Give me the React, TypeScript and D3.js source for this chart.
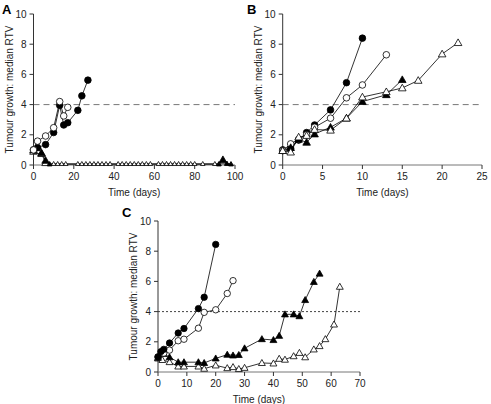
import React from "react";
import * as d3 from "d3";

type P = [number, number];

// Panel A
const aFilledCircle: P[] = [[0, 1.0], [2, 1.15], [6, 1.35], [10, 2.15], [13, 3.95], [15, 2.65], [17, 2.8], [22, 3.62], [24, 4.58], [27, 5.62]];
const aOpenCircle: P[] = [[0, 1.0], [2, 1.58], [6, 1.92], [10, 2.47], [13, 4.2], [15, 3.25], [17, 3.82]];
const aBaseDays = [8, 10, 12, 14, 16, 22, 24, 26, 28, 30, 32, 34, 36, 38, 42, 44, 46, 48, 50, 52, 54, 56, 58, 62, 64, 66, 68, 70, 72, 74, 76, 78, 80, 84, 90, 92, 96, 98];
const aFilledTri: P[] = [[0, 1.0], [2, 1.25], [4, 0.8], [6, 0.3], [8, 0.05], [92, 0.05], [94, 0.35], [96, 0.1], [98, 0.05]];
const aOpenTri: P[] = [[0, 0.9], [2, 0.95], [4, 0.75], [6, 0.15], ...aBaseDays.map((d) => [d, 0.08] as P)];

// Panel B
const bFilledCircle: P[] = [[0, 1.0], [1, 1.1], [2, 1.65], [3, 2.15], [4, 2.65], [6, 3.65], [8, 5.45], [10, 8.4]];
const bOpenCircle: P[] = [[0, 0.95], [1, 1.4], [2, 1.7], [3, 2.0], [4, 2.5], [6, 3.1], [8, 4.45], [10, 5.3], [13, 7.3]];
const bFilledTri: P[] = [[0, 0.95], [1, 1.15], [2, 1.7], [3, 1.5], [4, 2.05], [6, 2.5], [8, 3.1], [10, 4.2], [13, 4.65], [15, 5.65]];
const bOpenTri: P[] = [[0, 0.95], [1, 0.85], [2, 1.85], [3, 1.95], [4, 2.35], [6, 2.3], [8, 3.1], [10, 4.5], [13, 4.85], [15, 5.1], [17, 5.6], [20, 7.35], [22, 8.1]];

// Panel C
const cFilledCircle: P[] = [[0, 1.0], [1, 1.35], [2, 1.5], [4, 1.92], [7, 2.58], [9, 2.88], [14, 4.2], [16, 4.95], [20, 8.45]];
const cOpenCircle: P[] = [[0, 1.0], [2, 1.25], [4, 1.45], [7, 2.07], [9, 2.17], [14, 2.9], [16, 3.95], [20, 4.12], [24, 5.2], [26, 6.05]];
const cFilledTri: P[] = [[0, 0.95], [2, 1.2], [4, 0.98], [7, 0.65], [9, 0.65], [14, 0.65], [16, 0.6], [20, 0.9], [24, 1.15], [26, 1.1], [28, 1.13], [30, 1.57], [36, 2.18], [40, 2.12], [42, 2.4], [44, 3.82], [47, 3.82], [49, 3.7], [51, 4.77], [54, 5.97], [56, 6.52]];
const cOpenTri: P[] = [[0, 0.9], [1.5, 0.8], [4, 0.66], [7, 0.37], [9, 0.37], [14, 0.37], [16, 0.22], [20, 0.44], [24, 0.26], [26, 0.33], [28, 0.2], [30, 0.28], [36, 0.6], [40, 0.57], [42, 0.88], [44, 0.82], [47, 1.05], [49, 1.27], [51, 0.98], [54, 1.5], [56, 1.72], [58, 2.18], [61, 3.15], [63, 5.65]];

const yTicks = [0, 2, 4, 6, 8, 10];
const aXTicks = [0, 20, 40, 60, 80, 100];
const bXTicks = [0, 5, 10, 15, 20, 25];
const cXTicks = [0, 10, 20, 30, 40, 50, 60, 70];

const FONT = "Liberation Sans, Arial, Helvetica, sans-serif";

type Series = { data: P[]; shape: "circle" | "triangle"; filled: boolean; size?: number };

function Marker({ x, y, shape, filled, size }: { x: number; y: number; shape: string; filled: boolean; size: number }) {
  const fill = filled ? "#000" : "#fff";
  if (shape === "circle") {
    return <circle cx={x} cy={y} r={size} fill={fill} stroke="#000" strokeWidth={0.8} />;
  }
  const s = size * 1.15;
  const pts = `${x},${y - s} ${x - s},${y + s * 0.75} ${x + s},${y + s * 0.75}`;
  return <polygon points={pts} fill={fill} stroke="#000" strokeWidth={0.8} />;
}

function Panel({
  label, labelX, labelY, x0, x1, yTop, yBot, xMax, xTicks, series, dash, dashColor, baseSmall,
}: {
  label: string; labelX: number; labelY: number; x0: number; x1: number; yTop: number; yBot: number;
  xMax: number; xTicks: number[]; series: Series[]; dash: string; dashColor: string; baseSmall?: boolean;
}) {
  const x = d3.scaleLinear().domain([0, xMax]).range([x0, x1]);
  const y = d3.scaleLinear().domain([0, 10]).range([yBot, yTop]);
  const line = d3.line<P>().x((d) => x(d[0])).y((d) => y(d[1]));
  const axisColor = "#333";
  return (
    <g>
      <text x={labelX} y={labelY} fontFamily={FONT} fontWeight="bold" fontSize={13}>{label}</text>
      <line x1={x0} x2={x1} y1={y(4)} y2={y(4)} stroke={dashColor} strokeWidth={1} strokeDasharray={dash} />
      <line x1={x0} x2={x0} y1={yTop} y2={yBot} stroke={axisColor} strokeWidth={1} />
      <line x1={x0} x2={x1} y1={yBot} y2={yBot} stroke="#777" strokeWidth={1} />
      {yTicks.map((t) => (
        <g key={"y" + t}>
          <line x1={x0 - 4} x2={x0} y1={y(t)} y2={y(t)} stroke={axisColor} />
          <text x={x0 - 7} y={y(t)} dy="0.35em" textAnchor="end" fontFamily={FONT} fontSize={10} fill="#222">{t}</text>
        </g>
      ))}
      {xTicks.map((t) => (
        <g key={"x" + t}>
          <line x1={x(t)} x2={x(t)} y1={yBot} y2={yBot + 4} stroke={axisColor} />
          <text x={x(t)} y={yBot + 15} textAnchor="middle" fontFamily={FONT} fontSize={10} fill="#222">{t}</text>
        </g>
      ))}
      <text x={(x0 + x1) / 2} y={yBot + 31} textAnchor="middle" fontFamily={FONT} fontSize={10} fill="#222">Time (days)</text>
      <text transform={`translate(${x0 - 21},${(yTop + yBot) / 2}) rotate(-90)`} textAnchor="middle" fontFamily={FONT} fontSize={10} fill="#222">Tumour growth: median RTV</text>
      {series.map((s, i) => (
        <path key={"l" + i} d={line(s.data) || ""} fill="none" stroke="#000" strokeWidth={0.8} />
      ))}
      {series.map((s, i) => (
        <g key={"m" + i}>
          {s.data.map((d, j) => {
            const small = baseSmall && d[1] < 0.12;
            return (
              <Marker key={j} x={x(d[0])} y={y(d[1])} shape={s.shape} filled={s.filled} size={small ? 2 : (s.size ?? 3.3)} />
            );
          })}
        </g>
      ))}
    </g>
  );
}

export default function App() {
  return (
    <svg width={491} height={404} style={{ position: "absolute", left: 0, top: 0, background: "#fff" }}>
      <rect width={491} height={404} fill="#fff" />
      <Panel label="A" labelX={2} labelY={14} x0={33.5} x1={235} yTop={14} yBot={165} xMax={100} xTicks={aXTicks}
        dash="6,4" dashColor="#777" baseSmall
        series={[
          { data: aOpenTri, shape: "triangle", filled: false },
          { data: aFilledTri, shape: "triangle", filled: true },
          { data: aFilledCircle, shape: "circle", filled: true },
          { data: aOpenCircle, shape: "circle", filled: false },
        ]} />
      <Panel label="B" labelX={247} labelY={14} x0={282.7} x1={482} yTop={14} yBot={165} xMax={25} xTicks={bXTicks}
        dash="6,4" dashColor="#777"
        series={[
          { data: bFilledCircle, shape: "circle", filled: true },
          { data: bOpenCircle, shape: "circle", filled: false },
          { data: bFilledTri, shape: "triangle", filled: true },
          { data: bOpenTri, shape: "triangle", filled: false },
        ]} />
      <Panel label="C" labelX={122} labelY={217} x0={158} x1={360} yTop={221} yBot={372} xMax={70} xTicks={cXTicks}
        dash="2,2" dashColor="#444"
        series={[
          { data: cOpenTri, shape: "triangle", filled: false, size: 3 },
          { data: cFilledTri, shape: "triangle", filled: true, size: 3 },
          { data: cOpenCircle, shape: "circle", filled: false, size: 3.2 },
          { data: cFilledCircle, shape: "circle", filled: true, size: 3.2 },
        ]} />
    </svg>
  );
}
